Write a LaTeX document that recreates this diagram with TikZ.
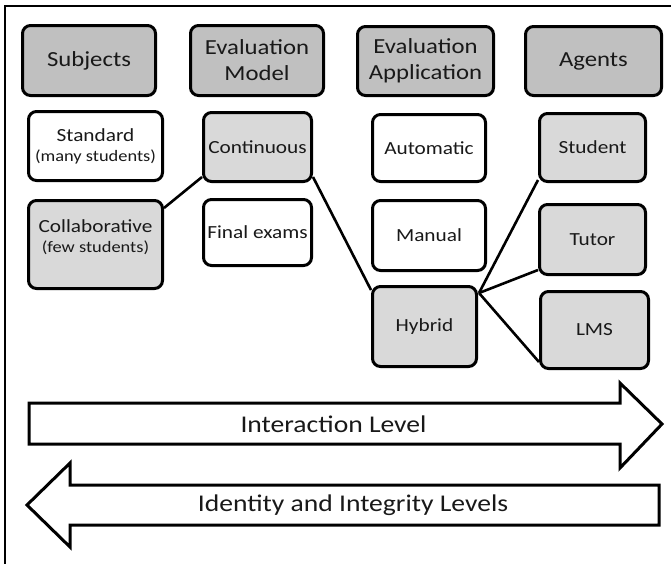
\documentclass[tikz,border=0pt]{standalone}
\usepackage{fontspec}
\setmainfont{Carlito}[FakeStretch=1.15]
% smaller second line inside a box
\newcommand\subnote[1]{{\fontsize{16}{20}\selectfont #1}}
\begin{document}
\begin{tikzpicture}[x=1pt,y=-1pt,
  box/.style={draw=black, line width=3pt, rounded corners=8pt, inner sep=0pt,
    align=center, text=black!90},
  head/.style={box, fill=headgray, font=\fontsize{21.5}{26}\selectfont},
  item/.style={box, font=\fontsize{18.5}{21}\selectfont},
  pick/.style={item, fill=pickgray},
  plain/.style={item, fill=white},
  link/.style={draw=black, line width=2.6pt},
  bigarrow/.style={draw=black, line width=3pt, fill=white, line join=miter},
  arrowtext/.style={font=\fontsize{24}{28}\selectfont, text=black!90}]
\definecolor{headgray}{HTML}{C0C0C0}
\definecolor{pickgray}{HTML}{D9D9D9}
\useasboundingbox (0,0) rectangle (671,563);
\clip (0,0) rectangle (671,563);

% outer frame
\draw[line width=2pt] (5,680) -- (5,6) -- (700,6);

% column headers
\node[head, minimum width=133, minimum height=70] (subj) at (89,60.5) {Subjects};
\node[head, minimum width=133, minimum height=70] (emod) at (257,60.5) {Evaluation\\Model};
\node[head, minimum width=136, minimum height=69] (eapp) at (425.5,61) {Evaluation\\Application};
\node[head, minimum width=136, minimum height=69] (agen) at (593.5,61) {Agents};

% subjects
\node[plain, minimum width=134, minimum height=69] (std) at (95.5,146) {Standard\\[-1pt]\subnote{(many students)}};
\node[pick, minimum width=134, minimum height=88] (col) at (95.5,244.5) {};
\node[align=center, font=\fontsize{18.5}{21}\selectfont, text=black!90] (coltext) at (95.5,237)
  {Collaborative\\[-1pt]\subnote{(few students)}};

% evaluation model
\node[pick, minimum width=108, minimum height=69] (cont) at (257.5,147) {Continuous};
\node[plain, minimum width=108, minimum height=66] (fin) at (257.5,232.5) {Final exams};

% evaluation application
\node[plain, minimum width=113, minimum height=67] (auto) at (429,148) {Automatic};
\node[plain, minimum width=113, minimum height=70] (man) at (429,235.5) {Manual};
\node[pick, minimum width=104, minimum height=80] (hyb) at (424.5,326.5) {Hybrid};

% agents
\node[pick, minimum width=106, minimum height=68] (stu) at (592.5,147.5) {Student};
\node[pick, minimum width=106, minimum height=70] (tut) at (592.5,239.5) {Tutor};
\node[pick, minimum width=108, minimum height=77] (lms) at (594.5,330) {LMS};

% links between the chosen options
\coordinate (hub) at ([xshift=1pt,yshift=-8pt]hyb.north east);
\draw[link] ([yshift=-9pt]col.north east) -- ([yshift=6pt]cont.south west);
\draw[link] ([yshift=6pt]cont.south east) -- ([yshift=-5pt]hyb.north west);
\draw[link] (hub) -- ([yshift=3pt]stu.south west);
\draw[link] (hub) -- ([yshift=6pt]tut.south west);
\draw[link] (hub) -- ([yshift=8pt]lms.south west);

% level arrows
\draw[bigarrow] (29,403) -- (620,403) -- (620,383) -- (662,424) -- (620,468)
  -- (620,444) -- (29,444) -- cycle;
\node[arrowtext] (inter) at (333.5,424) {Interaction Level};
\draw[bigarrow] (659,485) -- (70,485) -- (70,463) -- (27,505) -- (70,547)
  -- (70,525) -- (659,525) -- cycle;
\node[arrowtext] (ident) at (353,505) {Identity and Integrity Levels};
\end{tikzpicture}
\end{document}
